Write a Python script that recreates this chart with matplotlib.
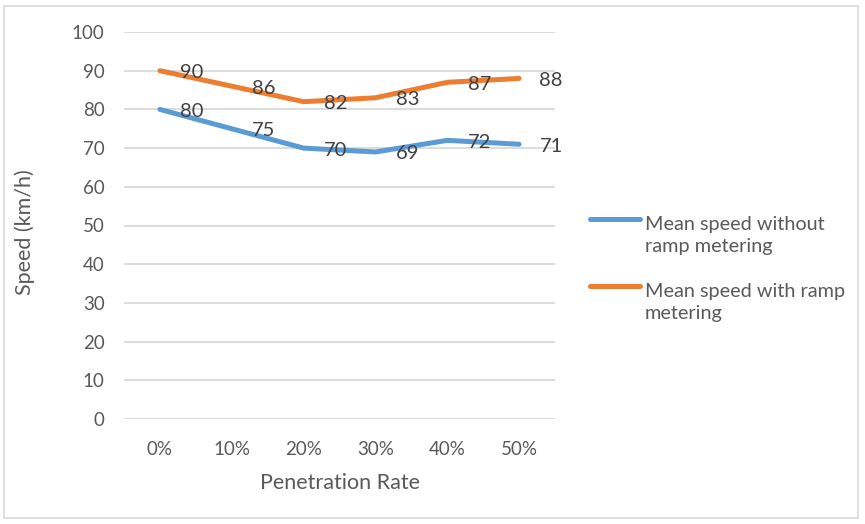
import matplotlib.pyplot as plt
from matplotlib.lines import Line2D
from matplotlib.patches import Rectangle

# chart data
rates = ["0%", "10%", "20%", "30%", "40%", "50%"]
speed_without = [80, 75, 70, 69, 72, 71]
speed_with = [90, 86, 82, 83, 87, 88]
series_names = ["Mean speed without\nramp metering", "Mean speed with ramp\nmetering"]

BLUE = "#5B9BD5"
ORANGE = "#ED7D31"
TEXT = "#595959"
GRID = "#D9D9D9"

plt.rcParams["font.family"] = ["Lato", "DejaVu Sans"]

W, H = 865, 524
fig = plt.figure(figsize=(W / 100, H / 100), dpi=100)

# light grey chart border (Excel chart area)
fig.add_artist(Rectangle((4 / W, 6 / H), 854 / W, 512 / H, transform=fig.transFigure,
                         fill=False, edgecolor="#D9D9D9", linewidth=1.2))

ax = fig.add_axes([124 / W, 1 - 419 / H, 431 / W, 387 / H])

x = list(range(len(rates)))
for vals, color in [(speed_without, BLUE), (speed_with, ORANGE)]:
    ax.plot(x, vals, color=color, linewidth=3.6, solid_capstyle="round", zorder=3)
    for xi, v in zip(x, vals):
        ax.annotate(str(v), (xi, v), xytext=(32, -2), textcoords="offset pixels",
                    ha="center", va="center", fontsize=14.5, color="#404040", zorder=4)

ax.set_xlim(-0.5, len(rates) - 0.5)
ax.set_ylim(0, 100)
ax.set_yticks(range(0, 101, 10))
ax.set_xticks(x)
ax.set_xticklabels(rates)
ax.grid(axis="y", color=GRID, linewidth=1.3)
ax.set_axisbelow(True)
for s in ax.spines.values():
    s.set_visible(False)
ax.tick_params(length=0, labelsize=13.5, colors=TEXT)
ax.tick_params(axis="y", pad=14)
ax.tick_params(axis="x", pad=16)

ax.set_xlabel("Penetration Rate", fontsize=15.5, color=TEXT)
ax.set_ylabel("Speed (km/h)", fontsize=15.5, color=TEXT)
ax.xaxis.set_label_coords(0.501, (419 - 483) / 387)
ax.xaxis.label.set_va("center")
ax.yaxis.set_label_coords((25 - 124) / 431, (419 - 232) / 387)
ax.yaxis.label.set_va("center")

# legend drawn by hand so the handle lines up with the first text line
# (multi-line text with va="baseline" sits on its last line's baseline)
legend_rows = [(219, BLUE), (286, ORANGE)]
for (ypix, color), name in zip(legend_rows, series_names):
    fig.add_artist(Line2D([590 / W, 640 / W], [1 - ypix / H, 1 - ypix / H],
                          transform=fig.transFigure, color=color,
                          linewidth=3.6, solid_capstyle="round"))
    fig.text(645 / W, 1 - (ypix + 33) / H, name, ha="left", va="baseline",
             fontsize=14.3, color=TEXT, linespacing=1.35)

fig.savefig("out.png", dpi=100)
